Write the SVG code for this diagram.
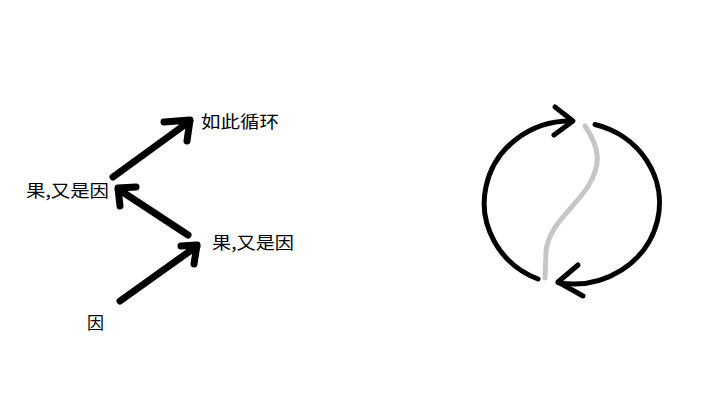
<svg xmlns="http://www.w3.org/2000/svg" width="720" height="405" viewBox="0 0 720 405">
<style>
.t{font-family:"Noto Sans CJK SC","Liberation Sans",sans-serif;font-size:17px;fill:#000}
.a{fill:none;stroke:#000;stroke-width:7;stroke-linecap:round;stroke-linejoin:round}
.c{fill:none;stroke:#000;stroke-width:5;stroke-linecap:round;stroke-linejoin:round}
.g{fill:none;stroke:#c6c6c6;stroke-width:5;stroke-linecap:round}
</style>
<rect width="720" height="405" fill="#fff"/>
<g id="n-yin"><text class="t" x="87" y="329" textLength="17">因</text></g>
<g id="n-guo2"><text class="t" x="212" y="249" textLength="82" lengthAdjust="spacingAndGlyphs">果,又是因</text></g>
<g id="n-guo1"><text class="t" x="26" y="197" textLength="83" lengthAdjust="spacingAndGlyphs">果,又是因</text></g>
<g id="n-loop"><text class="t" x="201" y="128" textLength="78" lengthAdjust="spacingAndGlyphs">如此循环</text></g>
<g id="connectors">
<path class="a" d="M120,301 L197,246 M181,246 L197,245 L194,264"/>
<path class="a" d="M188,235 L118,189 M136,187 L118,188 L120,206"/>
<path class="a" d="M113,177 L190,121 M164,122 L190,120 L187,141"/>
</g>
<g id="cycle">
<path class="c" d="M572,121 A86,82 0 0 0 538,279"/>
<path class="c" d="M555,107 L573,121 L554,135"/>
<path class="c" d="M595,124.5 A86,81 0 0 1 558,282.6"/>
<path class="c" d="M578,265 L558,282 L583,296"/>
<path class="g" d="M585,126 C600,148 602,165 587,188 C572,210 548,226 546,252 L545,278"/>
</g>
</svg>
